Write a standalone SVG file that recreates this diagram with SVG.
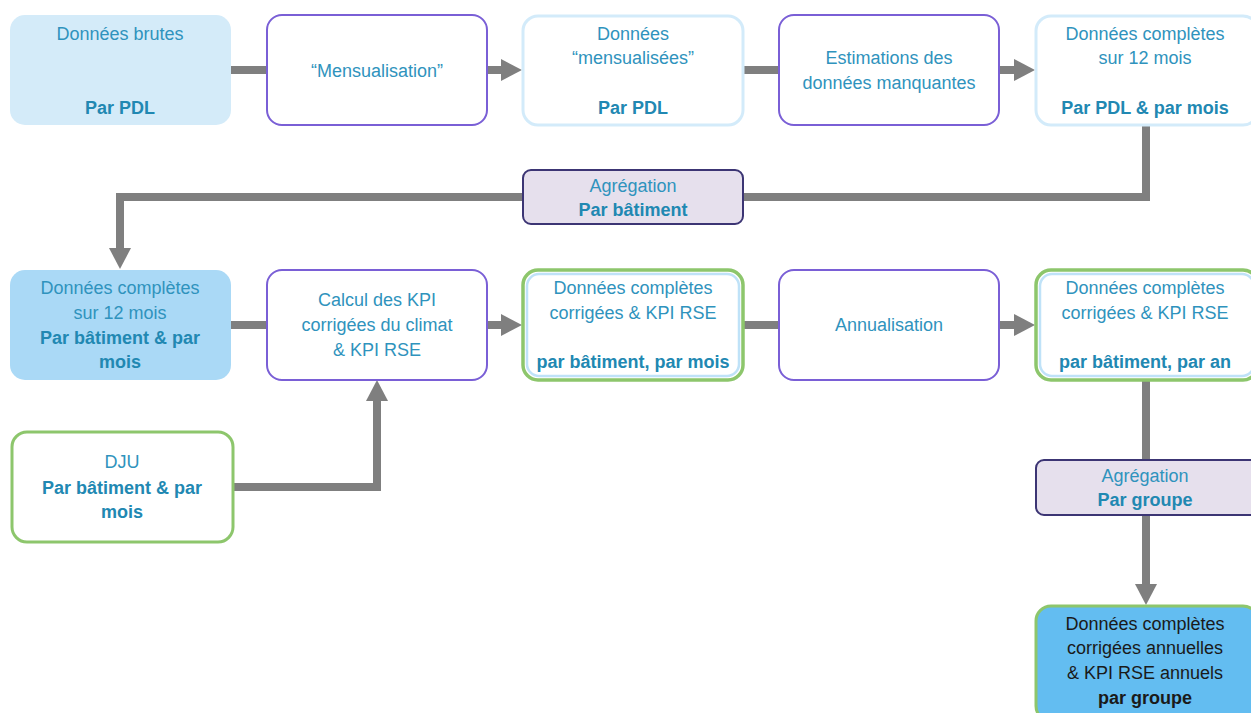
<svg xmlns="http://www.w3.org/2000/svg" width="1251" height="713" viewBox="0 0 1251 713">
<defs>
<marker id="ah" markerUnits="userSpaceOnUse" markerWidth="24" markerHeight="24" refX="0" refY="12" orient="auto">
<path d="M0,1 L21,12 L0,23 Z" fill="#7f7f7f"/>
</marker>
<style>
text{font-family:"Liberation Sans",Arial,sans-serif;font-size:18px;fill:#2f93bd;text-anchor:middle}
.b{font-weight:bold;fill:#2188b2}
.d{fill:#1a1a1a}
.db{fill:#1a1a1a;font-weight:bold}
.proc{fill:#ffffff;stroke:#7a5fd6;stroke-width:2}
.lb{fill:#ffffff;stroke:#d3ebfa;stroke-width:3}
.gr{fill:#ffffff;stroke:#8dc66c;stroke-width:3.5}
.gi{fill:none;stroke:#bfe2f8;stroke-width:2.5}
.agg{fill:#e6e0ed;stroke:#3c3574;stroke-width:2}
.c{fill:none;stroke:#7f7f7f;stroke-width:8;stroke-linejoin:miter}
</style>
</defs>
<g id="connectors">
<line class="c" x1="231" y1="70" x2="267" y2="70"/>
<line class="c" x1="487" y1="70" x2="501" y2="70" marker-end="url(#ah)"/>
<line class="c" x1="743" y1="70" x2="779" y2="70"/>
<line class="c" x1="999" y1="70" x2="1014" y2="70" marker-end="url(#ah)"/>
<polyline class="c" points="1146,125 1146,197 120,197 120,248" marker-end="url(#ah)"/>
<line class="c" x1="231" y1="325" x2="267" y2="325"/>
<line class="c" x1="487" y1="325" x2="501" y2="325" marker-end="url(#ah)"/>
<line class="c" x1="743" y1="325" x2="779" y2="325"/>
<line class="c" x1="999" y1="325" x2="1014" y2="325" marker-end="url(#ah)"/>
<polyline class="c" points="233,487 377,487 377,401" marker-end="url(#ah)"/>
<line class="c" x1="1146" y1="380" x2="1146" y2="584" marker-end="url(#ah)"/>
</g>
<g id="n1">
<rect x="10" y="15" width="221" height="110" rx="15" fill="#d4ebf9"/>
<text x="120" y="40">Données brutes</text>
<text x="120" y="114" class="b">Par PDL</text>
</g>
<g id="n2">
<rect class="proc" x="267" y="15" width="220" height="110" rx="15"/>
<text x="377" y="77">“Mensualisation”</text>
</g>
<g id="n3">
<rect class="lb" x="523" y="16" width="220" height="109" rx="15"/>
<text x="633" y="40">Données</text>
<text x="633" y="64">“mensualisées”</text>
<text x="633" y="114" class="b">Par PDL</text>
</g>
<g id="n4">
<rect class="proc" x="779" y="15" width="220" height="110" rx="15"/>
<text x="889" y="64">Estimations des</text>
<text x="889" y="89">données manquantes</text>
</g>
<g id="n5">
<rect class="lb" x="1036" y="16" width="222" height="109" rx="15"/>
<text x="1145" y="40">Données complètes</text>
<text x="1145" y="64">sur 12 mois</text>
<text x="1145" y="114" class="b">Par PDL &amp; par mois</text>
</g>
<g id="agg1">
<rect class="agg" x="523" y="170" width="220" height="54" rx="8"/>
<text x="633" y="192">Agrégation</text>
<text x="633" y="216" class="b">Par bâtiment</text>
</g>
<g id="n6">
<rect x="10" y="270" width="221" height="110" rx="15" fill="#aad9f6"/>
<text x="120" y="294">Données complètes</text>
<text x="120" y="319">sur 12 mois</text>
<text x="120" y="344" class="b">Par bâtiment &amp; par</text>
<text x="120" y="368" class="b">mois</text>
</g>
<g id="n7">
<rect class="proc" x="267" y="270" width="220" height="110" rx="15"/>
<text x="377" y="306">Calcul des KPI</text>
<text x="377" y="331">corrigées du climat</text>
<text x="377" y="356">&amp; KPI RSE</text>
</g>
<g id="n8">
<rect class="gr" x="523" y="270" width="220" height="110" rx="15"/>
<rect class="gi" x="527" y="274" width="212" height="102" rx="12"/>
<text x="633" y="294">Données complètes</text>
<text x="633" y="319">corrigées &amp; KPI RSE</text>
<text x="633" y="368" class="b">par bâtiment, par mois</text>
</g>
<g id="n9">
<rect class="proc" x="779" y="270" width="220" height="110" rx="15"/>
<text x="889" y="331">Annualisation</text>
</g>
<g id="n10">
<rect class="gr" x="1036" y="270" width="222" height="110" rx="15"/>
<rect class="gi" x="1040" y="274" width="214" height="102" rx="12"/>
<text x="1145" y="294">Données complètes</text>
<text x="1145" y="319">corrigées &amp; KPI RSE</text>
<text x="1145" y="368" class="b">par bâtiment, par an</text>
</g>
<g id="dju">
<rect x="12" y="432" width="221" height="110" rx="15" fill="#ffffff" stroke="#8dc66c" stroke-width="3"/>
<text x="122" y="468">DJU</text>
<text x="122" y="494" class="b">Par bâtiment &amp; par</text>
<text x="122" y="518" class="b">mois</text>
</g>
<g id="agg2">
<rect class="agg" x="1036" y="460" width="222" height="55" rx="8"/>
<text x="1145" y="482">Agrégation</text>
<text x="1145" y="506" class="b">Par groupe</text>
</g>
<g id="n11">
<rect x="1036" y="606" width="222" height="115" rx="15" fill="#63bdf1" stroke="#8dc66c" stroke-width="3"/>
<text x="1145" y="630" class="d">Données complètes</text>
<text x="1145" y="654" class="d">corrigées annuelles</text>
<text x="1145" y="679" class="d">&amp; KPI RSE annuels</text>
<text x="1145" y="704" class="db">par groupe</text>
</g>
</svg>
